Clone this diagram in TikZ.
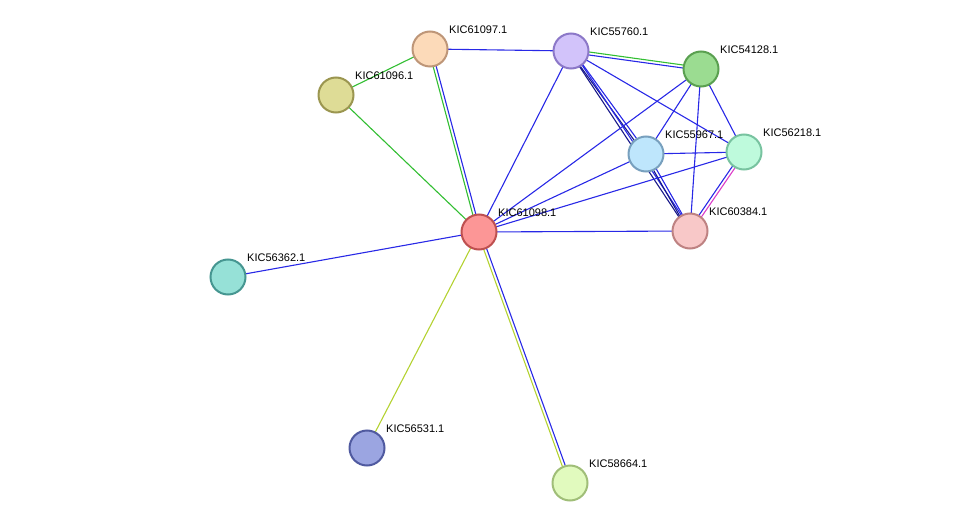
\documentclass[tikz,border=0pt]{standalone}
\usepackage{fontspec}
\setmainfont{Liberation Sans}
\usetikzlibrary{calc,backgrounds}
\definecolor{edgeblue}{RGB}{40,40,230}
\definecolor{edgegreen}{RGB}{50,190,50}
\definecolor{edgeyellow}{RGB}{180,210,50}
\definecolor{edgepink}{RGB}{220,60,200}
\tikzset{
  prot/.style={circle, minimum size=35pt, line width=2pt, inner sep=0pt},
  lbl/.style={font=\fontsize{11}{13}\selectfont, anchor=south west, inner sep=1pt},
  blue edge/.style={edgeblue, line width=1.1pt},
  green edge/.style={edgegreen, line width=1.1pt},
  yellow edge/.style={edgeyellow, line width=1.1pt},
  pink edge/.style={edgepink, line width=1.1pt}
}
\begin{document}
\begin{tikzpicture}[x=1pt,y=-1pt]
    \useasboundingbox (0,0) rectangle (976,529);

    % Proteins
    \node[prot, fill={rgb,255:red,252;green,218;blue,185}, draw={rgb,255:red,190;green,150;blue,120}] (p61097) at (430,49) {};
    \node[prot, fill={rgb,255:red,210;green,195;blue,250}, draw={rgb,255:red,140;green,120;blue,200}] (p55760) at (571,51) {};
    \node[prot, fill={rgb,255:red,155;green,220;blue,145}, draw={rgb,255:red,90;green,160;blue,80}] (p54128) at (701,69) {};
    \node[prot, fill={rgb,255:red,222;green,220;blue,150}, draw={rgb,255:red,155;green,150;blue,80}] (p61096) at (336,95) {};
    \node[prot, fill={rgb,255:red,190;green,230;blue,252}, draw={rgb,255:red,120;green,160;blue,190}] (p55967) at (646,154) {};
    \node[prot, fill={rgb,255:red,190;green,250;blue,220}, draw={rgb,255:red,120;green,195;blue,160}] (p56218) at (744,152) {};
    \node[prot, fill={rgb,255:red,252;green,150;blue,150}, draw={rgb,255:red,190;green,80;blue,80}] (p61098) at (479,232) {};
    \node[prot, fill={rgb,255:red,248;green,200;blue,200}, draw={rgb,255:red,190;green,130;blue,130}] (p60384) at (690,231) {};
    \node[prot, fill={rgb,255:red,150;green,225;blue,215}, draw={rgb,255:red,70;green,150;blue,145}] (p56362) at (228,277) {};
    \node[prot, fill={rgb,255:red,155;green,165;blue,225}, draw={rgb,255:red,80;green,90;blue,160}] (p56531) at (367,448) {};
    \node[prot, fill={rgb,255:red,225;green,250;blue,190}, draw={rgb,255:red,160;green,190;blue,120}] (p58664) at (570,483) {};

    % Labels
    \node[lbl] at ($(p61097)+(18,-14)$) {KIC61097.1};
    \node[lbl] at ($(p55760)+(18,-14)$) {KIC55760.1};
    \node[lbl] at ($(p54128)+(18,-14)$) {KIC54128.1};
    \node[lbl] at ($(p61096)+(18,-14)$) {KIC61096.1};
    \node[lbl] at ($(p55967)+(18,-14)$) {KIC55967.1};
    \node[lbl] at ($(p56218)+(18,-14)$) {KIC56218.1};
    \node[lbl] at ($(p61098)+(18,-14)$) {KIC61098.1};
    \node[lbl] at ($(p60384)+(18,-14)$) {KIC60384.1};
    \node[lbl] at ($(p56362)+(18,-14)$) {KIC56362.1};
    \node[lbl] at ($(p56531)+(18,-14)$) {KIC56531.1};
    \node[lbl] at ($(p58664)+(18,-14)$) {KIC58664.1};

    % Interactions
    \begin{scope}[on background layer]
        \draw[green edge] (p61096.center) -- (p61097.center);
        \draw[green edge] (p61096.center) -- (p61098.center);
        \draw[blue edge] (p61097.center) -- (p55760.center);
        \draw[blue edge] ($(p61097.center)!1.5pt!90:(p61098.center)$) -- ($(p61098.center)!1.5pt!-90:(p61097.center)$);
        \draw[green edge] ($(p61097.center)!1.5pt!-90:(p61098.center)$) -- ($(p61098.center)!1.5pt!90:(p61097.center)$);
        \draw[green edge] ($(p55760.center)!1.5pt!90:(p54128.center)$) -- ($(p54128.center)!1.5pt!-90:(p55760.center)$);
        \draw[blue edge] ($(p55760.center)!1.5pt!-90:(p54128.center)$) -- ($(p54128.center)!1.5pt!90:(p55760.center)$);
        \draw[blue edge] (p55760.center) -- (p61098.center);
        \draw[blue edge] ($(p55760.center)!1.5pt!90:(p55967.center)$) -- ($(p55967.center)!1.5pt!-90:(p55760.center)$);
        \draw[blue edge, edgeblue!60!black] ($(p55760.center)!1.5pt!-90:(p55967.center)$) -- ($(p55967.center)!1.5pt!90:(p55760.center)$);
        \draw[blue edge] ($(p55760.center)!1.5pt!90:(p60384.center)$) -- ($(p60384.center)!1.5pt!-90:(p55760.center)$);
        \draw[blue edge, edgeblue!60!black] ($(p55760.center)!1.5pt!-90:(p60384.center)$) -- ($(p60384.center)!1.5pt!90:(p55760.center)$);
        \draw[blue edge] (p55760.center) -- (p56218.center);
        \draw[blue edge] (p54128.center) -- (p55967.center);
        \draw[blue edge] (p54128.center) -- (p61098.center);
        \draw[blue edge] (p54128.center) -- (p60384.center);
        \draw[blue edge] (p54128.center) -- (p56218.center);
        \draw[blue edge] (p55967.center) -- (p56218.center);
        \draw[blue edge] (p55967.center) -- (p61098.center);
        \draw[blue edge] ($(p55967.center)!1.5pt!90:(p60384.center)$) -- ($(p60384.center)!1.5pt!-90:(p55967.center)$);
        \draw[blue edge, edgeblue!60!black] ($(p55967.center)!1.5pt!-90:(p60384.center)$) -- ($(p60384.center)!1.5pt!90:(p55967.center)$);
        \draw[pink edge] ($(p56218.center)!1.5pt!90:(p60384.center)$) -- ($(p60384.center)!1.5pt!-90:(p56218.center)$);
        \draw[blue edge] ($(p56218.center)!1.5pt!-90:(p60384.center)$) -- ($(p60384.center)!1.5pt!90:(p56218.center)$);
        \draw[blue edge] (p56218.center) -- (p61098.center);
        \draw[blue edge] (p61098.center) -- (p60384.center);
        \draw[blue edge] (p61098.center) -- (p56362.center);
        \draw[yellow edge] (p61098.center) -- (p56531.center);
        \draw[blue edge] ($(p61098.center)!1.5pt!90:(p58664.center)$) -- ($(p58664.center)!1.5pt!-90:(p61098.center)$);
        \draw[yellow edge] ($(p61098.center)!1.5pt!-90:(p58664.center)$) -- ($(p58664.center)!1.5pt!90:(p61098.center)$);
    \end{scope}
\end{tikzpicture}
\end{document}
